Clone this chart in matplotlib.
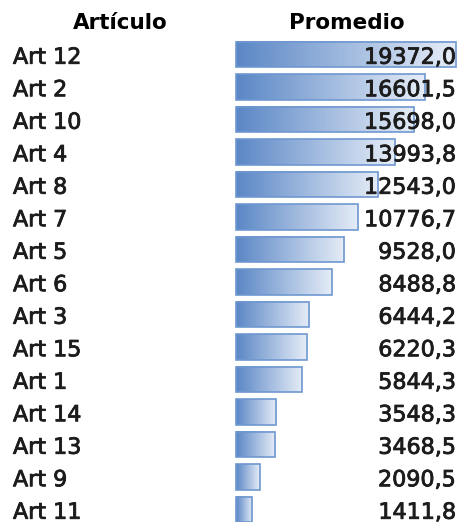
import numpy as np
import matplotlib
matplotlib.use("Agg")
import matplotlib.pyplot as plt
import matplotlib.patheffects as pe
from matplotlib.patches import Rectangle
from matplotlib.colors import LinearSegmentedColormap
from matplotlib.transforms import blended_transform_factory

articulos = ["Art 12", "Art 2", "Art 10", "Art 4", "Art 8", "Art 7", "Art 5", "Art 6",
             "Art 3", "Art 15", "Art 1", "Art 14", "Art 13", "Art 9", "Art 11"]
promedio = [19372.0, 16601.5, 15698.0, 13993.8, 12543.0, 10776.7, 9528.0, 8488.8,
            6444.2, 6220.3, 5844.3, 3548.3, 3468.5, 2090.5, 1411.8]
headers = ["Artículo", "Promedio"]

W, H = 460, 522
fig = plt.figure(figsize=(W / 100, H / 100), dpi=100)
ax = fig.add_axes([0, 0, 1, 1])
ax.axis("off")

# pixel layout of the sheet
bar_x0, bar_x1 = 236, 456
row0, pitch = 54.5, 32.5
per_px = max(promedio) / (bar_x1 - bar_x0)

cmap = LinearSegmentedColormap.from_list("databar", ["#5b87c6", "#e6edf7"])
grad = np.linspace(0, 1, 256).reshape(1, -1)
h = 0.77

for i, v in enumerate(promedio):
    ax.imshow(grad, cmap=cmap, aspect="auto", interpolation="bilinear",
              extent=(0, v, i + h / 2, i - h / 2), zorder=1)
    ax.add_patch(Rectangle((0, i - h / 2), v, h, fill=False,
                           edgecolor="#6f98d0", linewidth=1.2, zorder=2))

ax.set_xlim(-bar_x0 * per_px, (W - bar_x0) * per_px)
ax.set_ylim((H - row0) / pitch, -row0 / pitch)

tr = blended_transform_factory(fig.transFigure, ax.transData)
font = "DejaVu Sans"
# a thin stroke gives the semi-bold look of the spreadsheet text
semi = [pe.withStroke(linewidth=0.6, foreground="#1c1c1c")]
for i, (name, v) in enumerate(zip(articulos, promedio)):
    ax.text(13 / W, i + 0.1, name, transform=tr, ha="left", va="center",
            fontsize=16, family=font, color="#1c1c1c", zorder=3, path_effects=semi)
    txt = f"{v:.1f}".replace(".", ",")
    ax.text(456 / W, i + 0.1, txt, transform=tr, ha="right", va="center",
            fontsize=16, family=font, color="#1c1c1c", zorder=3, path_effects=semi)

hy = (23 - row0) / pitch
ax.text(120 / W, hy, headers[0], transform=tr, ha="center", va="center",
        fontsize=15.5, family=font, weight="bold", color="#000000")
ax.text(347 / W, hy, headers[1], transform=tr, ha="center", va="center",
        fontsize=15.5, family=font, weight="bold", color="#000000")

fig.savefig("out.png", dpi=100, facecolor="white")
